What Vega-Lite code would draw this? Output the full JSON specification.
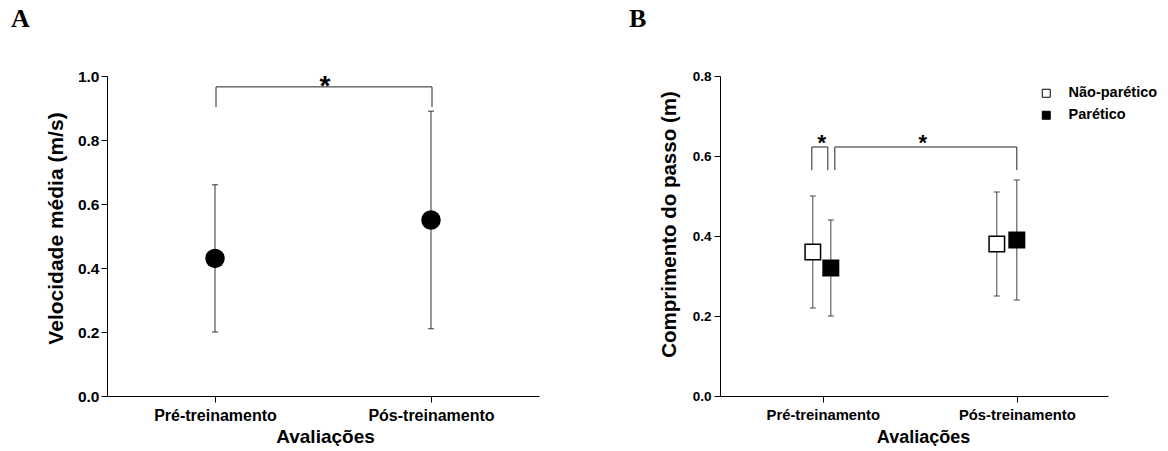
{
  "$schema": "https://vega.github.io/schema/vega-lite/v6.json",
  "background": "white",
  "padding": {"left": 11, "top": 6, "right": 0, "bottom": 0},
  "bounds": "flush",
  "spacing": 181,
  "config": {
    "view": {"stroke": null},
    "font": "Liberation Sans",
    "axis": {
      "grid": false,
      "domainColor": "black",
      "tickColor": "black",
      "labelColor": "black",
      "titleColor": "black",
      "labelFont": "Liberation Sans",
      "titleFont": "Liberation Sans",
      "labelFontWeight": "bold",
      "titleFontWeight": "bold",
      "tickSize": 6
    }
  },
  "datasets": {
    "velocidade": [
      {"fase": "Pré-treinamento", "media": 0.43, "inferior": 0.20, "superior": 0.66},
      {"fase": "Pós-treinamento", "media": 0.55, "inferior": 0.21, "superior": 0.89}
    ],
    "passo": [
      {"fase": "Pré-treinamento", "grupo": "Não-parético", "media": 0.36, "inferior": 0.22, "superior": 0.50},
      {"fase": "Pré-treinamento", "grupo": "Parético", "media": 0.32, "inferior": 0.20, "superior": 0.44},
      {"fase": "Pós-treinamento", "grupo": "Não-parético", "media": 0.38, "inferior": 0.25, "superior": 0.51},
      {"fase": "Pós-treinamento", "grupo": "Parético", "media": 0.39, "inferior": 0.24, "superior": 0.54}
    ],
    "sigA": [
      {"comparacao": "tempo", "de": "Pré-treinamento", "ate": "Pós-treinamento", "topo": 0.966, "base": 0.903, "marca": "*"}
    ],
    "sigB": [
      {"comparacao": "lado", "de": "Pré-treinamento", "ate": "Pré-treinamento", "topo": 0.6225, "base": 0.565, "marca": "*"},
      {"comparacao": "tempo", "de": "Pré-treinamento", "ate": "Pós-treinamento", "topo": 0.6225, "base": 0.565, "marca": "*"}
    ]
  },
  "hconcat": [
    {
      "width": 432,
      "height": 320,
      "title": {"text": "A", "anchor": "start", "frame": "group", "dx": -96, "offset": 37, "font": "Liberation Serif", "fontSize": 26, "fontWeight": "bold", "color": "black"},
      "layer": [
        {
          "data": {"name": "velocidade"},
          "mark": {"type": "rule", "color": "#333", "strokeWidth": 1},
          "encoding": {
            "x": {"field": "fase", "type": "nominal", "title": "Avaliações",
              "scale": {"type": "point", "padding": 0.5, "domain": ["Pré-treinamento", "Pós-treinamento"]},
              "axis": {"labelAngle": 0, "labelFontSize": 16, "labelPadding": 5, "titleFontSize": 19, "titleX": 218, "titleY": 46, "titleBaseline": "alphabetic"}},
            "y": {"field": "inferior", "type": "quantitative", "title": "Velocidade média (m/s)",
              "scale": {"domain": [0, 1], "nice": false, "zero": true},
              "axis": {"values": [0, 0.2, 0.4, 0.6, 0.8, 1.0], "format": ".1f", "labelFontSize": 15.5, "labelPadding": 2, "titleFontSize": 21, "titleX": -51, "titleY": 152, "titleBaseline": "middle"}},
            "y2": {"field": "superior"}
          }
        },
        {
          "data": {"name": "velocidade"},
          "mark": {"type": "tick", "color": "#333", "size": 6, "thickness": 1, "opacity": 1},
          "encoding": {
            "x": {"field": "fase", "type": "nominal", "title": "Avaliações"},
            "y": {"field": "inferior", "type": "quantitative", "title": "Velocidade média (m/s)"}
          }
        },
        {
          "data": {"name": "velocidade"},
          "mark": {"type": "tick", "color": "#333", "size": 6, "thickness": 1, "opacity": 1},
          "encoding": {
            "x": {"field": "fase", "type": "nominal", "title": "Avaliações"},
            "y": {"field": "superior", "type": "quantitative", "title": "Velocidade média (m/s)"}
          }
        },
        {
          "data": {"name": "velocidade"},
          "mark": {"type": "point", "shape": "circle", "filled": true, "color": "black", "size": 380, "opacity": 1},
          "encoding": {
            "x": {"field": "fase", "type": "nominal", "title": "Avaliações"},
            "y": {"field": "media", "type": "quantitative", "title": "Velocidade média (m/s)"}
          }
        },
        {
          "data": {"name": "sigA"},
          "mark": {"type": "rule", "color": "#222", "strokeWidth": 1, "xOffset": 1, "x2Offset": 1},
          "encoding": {
            "x": {"field": "de", "type": "nominal", "title": "Avaliações"},
            "x2": {"field": "ate"},
            "y": {"field": "topo", "type": "quantitative", "title": "Velocidade média (m/s)"}
          }
        },
        {
          "data": {"name": "sigA"},
          "mark": {"type": "rule", "color": "#222", "strokeWidth": 1, "xOffset": 1},
          "encoding": {
            "x": {"field": "de", "type": "nominal", "title": "Avaliações"},
            "y": {"field": "topo", "type": "quantitative", "title": "Velocidade média (m/s)"},
            "y2": {"field": "base"}
          }
        },
        {
          "data": {"name": "sigA"},
          "mark": {"type": "rule", "color": "#222", "strokeWidth": 1, "xOffset": 1},
          "encoding": {
            "x": {"field": "ate", "type": "nominal", "title": "Avaliações"},
            "y": {"field": "topo", "type": "quantitative", "title": "Velocidade média (m/s)"},
            "y2": {"field": "base"}
          }
        },
        {
          "data": {"name": "sigA"},
          "mark": {"type": "text", "font": "Liberation Sans", "fontWeight": "bold", "fontSize": 28, "color": "black", "align": "center", "baseline": "alphabetic", "dy": 8, "xOffset": 110},
          "encoding": {
            "x": {"field": "de", "type": "nominal", "title": "Avaliações"},
            "y": {"field": "topo", "type": "quantitative", "title": "Velocidade média (m/s)"},
            "text": {"field": "marca"}
          }
        }
      ]
    },
    {
      "width": 388,
      "height": 320,
      "title": {"text": "B", "anchor": "start", "frame": "group", "dx": -91, "offset": 37, "font": "Liberation Serif", "fontSize": 26, "fontWeight": "bold", "color": "black"},
      "layer": [
        {
          "data": {"name": "passo"},
          "mark": {"type": "rule", "color": "#444", "strokeWidth": 1, "xOffset": {"expr": "datum.grupo == 'Não-parético' ? (datum.fase == 'Pré-treinamento' ? -10 : -20) : (datum.fase == 'Pré-treinamento' ? 8 : 0)"}},
          "encoding": {
            "x": {"field": "fase", "type": "nominal", "title": "Avaliações",
              "scale": {"type": "point", "padding": 0.5, "align": 0.53, "domain": ["Pré-treinamento", "Pós-treinamento"]},
              "axis": {"labelAngle": 0, "labelFontSize": 14.8, "labelPadding": 5, "titleFontSize": 18, "titleX": 203, "titleY": 46, "titleBaseline": "alphabetic"}},
            "y": {"field": "inferior", "type": "quantitative", "title": "Comprimento do passo (m)",
              "scale": {"domain": [0, 0.8], "nice": false, "zero": true},
              "axis": {"values": [0, 0.2, 0.4, 0.6, 0.8], "format": ".1f", "labelFontSize": 13.5, "labelPadding": 3, "titleFontSize": 20.5, "titleX": -51, "titleY": 148, "titleBaseline": "middle"}},
            "y2": {"field": "superior"}
          }
        },
        {
          "data": {"name": "passo"},
          "mark": {"type": "tick", "color": "#444", "size": 6, "thickness": 1, "opacity": 1, "xOffset": {"expr": "datum.grupo == 'Não-parético' ? (datum.fase == 'Pré-treinamento' ? -10 : -20) : (datum.fase == 'Pré-treinamento' ? 8 : 0)"}},
          "encoding": {
            "x": {"field": "fase", "type": "nominal", "title": "Avaliações"},
            "y": {"field": "inferior", "type": "quantitative", "title": "Comprimento do passo (m)"}
          }
        },
        {
          "data": {"name": "passo"},
          "mark": {"type": "tick", "color": "#444", "size": 6, "thickness": 1, "opacity": 1, "xOffset": {"expr": "datum.grupo == 'Não-parético' ? (datum.fase == 'Pré-treinamento' ? -10 : -20) : (datum.fase == 'Pré-treinamento' ? 8 : 0)"}},
          "encoding": {
            "x": {"field": "fase", "type": "nominal", "title": "Avaliações"},
            "y": {"field": "superior", "type": "quantitative", "title": "Comprimento do passo (m)"}
          }
        },
        {
          "data": {"name": "passo"},
          "mark": {"type": "point", "shape": "square", "filled": true, "stroke": "black", "strokeWidth": 1.5, "size": 240, "opacity": 1, "xOffset": {"expr": "datum.grupo == 'Não-parético' ? (datum.fase == 'Pré-treinamento' ? -10 : -20) : (datum.fase == 'Pré-treinamento' ? 8 : 0)"}},
          "encoding": {
            "x": {"field": "fase", "type": "nominal", "title": "Avaliações"},
            "y": {"field": "media", "type": "quantitative", "title": "Comprimento do passo (m)"},
            "fill": {"field": "grupo", "type": "nominal",
              "scale": {"domain": ["Não-parético", "Parético"], "range": ["white", "black"]},
              "legend": {"title": null, "orient": "none", "legendX": 932, "legendY": 10, "symbolType": "square", "symbolSize": 64, "symbolStrokeColor": "black", "symbolStrokeWidth": 1, "symbolOpacity": 1, "labelFont": "Liberation Sans", "labelFontSize": 14.5, "labelFontWeight": "bold", "labelColor": "black", "labelOffset": 15, "rowPadding": 7, "padding": 0}}
          }
        },
        {
          "data": {"name": "sigB"},
          "mark": {"type": "rule", "color": "#222", "strokeWidth": 1, "xOffset": {"expr": "datum.comparacao == 'lado' ? -11 : 12"}, "x2Offset": {"expr": "datum.comparacao == 'lado' ? 5 : 0"}},
          "encoding": {
            "x": {"field": "de", "type": "nominal", "title": "Avaliações"},
            "x2": {"field": "ate"},
            "y": {"field": "topo", "type": "quantitative", "title": "Comprimento do passo (m)"}
          }
        },
        {
          "data": {"name": "sigB"},
          "mark": {"type": "rule", "color": "#222", "strokeWidth": 1, "xOffset": {"expr": "datum.comparacao == 'lado' ? -11 : 12"}},
          "encoding": {
            "x": {"field": "de", "type": "nominal", "title": "Avaliações"},
            "y": {"field": "topo", "type": "quantitative", "title": "Comprimento do passo (m)"},
            "y2": {"field": "base"}
          }
        },
        {
          "data": {"name": "sigB"},
          "mark": {"type": "rule", "color": "#222", "strokeWidth": 1, "xOffset": {"expr": "datum.comparacao == 'lado' ? 5 : 0"}},
          "encoding": {
            "x": {"field": "ate", "type": "nominal", "title": "Avaliações"},
            "y": {"field": "topo", "type": "quantitative", "title": "Comprimento do passo (m)"},
            "y2": {"field": "base"}
          }
        },
        {
          "data": {"name": "sigB"},
          "mark": {"type": "text", "font": "Liberation Sans", "fontWeight": "bold", "fontSize": 22, "color": "black", "align": "center", "baseline": "alphabetic", "dy": 3, "xOffset": {"expr": "datum.comparacao == 'lado' ? -1 : 100"}},
          "encoding": {
            "x": {"field": "de", "type": "nominal", "title": "Avaliações"},
            "y": {"field": "topo", "type": "quantitative", "title": "Comprimento do passo (m)"},
            "text": {"field": "marca"}
          }
        }
      ]
    }
  ]
}
